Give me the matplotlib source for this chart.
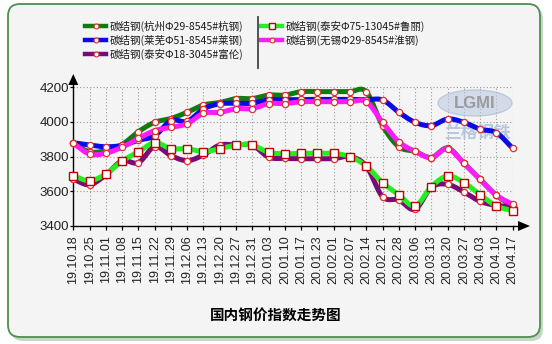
import numpy as np
import matplotlib
matplotlib.use("Agg")
import matplotlib.pyplot as plt
from matplotlib.patches import FancyBboxPatch, Polygon, Ellipse
from matplotlib.lines import Line2D
from matplotlib.transforms import Affine2D

# ---- data -------------------------------------------------------------
dates = ['19.10.18', '19.10.25', '19.11.01', '19.11.08', '19.11.15', '19.11.22',
         '19.11.29', '19.12.06', '19.12.13', '19.12.20', '19.12.27', '19.12.31',
         '20.01.03', '20.01.10', '20.01.17', '20.01.23', '20.02.01', '20.02.07',
         '20.02.14', '20.02.21', '20.02.28', '20.03.06', '20.03.13', '20.03.20',
         '20.03.27', '20.04.03', '20.04.10', '20.04.17']

hangzhou = [3877, 3828, 3835, 3870, 3944, 3998, 4020, 4056, 4098, 4112, 4135, 4135,
            4155, 4155, 4175, 4175, 4175, 4175, 4175, 3979, 3857, 3830, 3795, 3850,
            3762, 3669, 3577, 3515]
laiwu = [3880, 3867, 3857, 3865, 3895, 3920, 4008, 4004, 4075, 4105, 4108, 4108,
         4128, 4128, 4130, 4130, 4130, 4130, 4128, 4127, 4056, 3998, 3979, 4017,
         3998, 3958, 3938, 3848]
fulun = [3670, 3638, 3695, 3776, 3765, 3858, 3806, 3777, 3810, 3867, 3867, 3867,
         3797, 3790, 3788, 3788, 3788, 3800, 3746, 3569, 3550, 3496, 3623, 3640,
         3596, 3542, 3519, 3512]
luli = [3690, 3661, 3700, 3775, 3827, 3881, 3846, 3846, 3829, 3846, 3867, 3867,
        3825, 3817, 3819, 3819, 3819, 3800, 3746, 3650, 3581, 3515, 3627, 3688,
        3650, 3581, 3515, 3488]
huaigang = [3877, 3815, 3820, 3855, 3905, 3950, 3969, 3990, 4050, 4055, 4077, 4077,
            4106, 4106, 4117, 4117, 4117, 4117, 4117, 3998, 3886, 3830, 3795, 3846,
            3762, 3669, 3577, 3525]

names = ['碳结钢(杭州Φ29-8545#杭钢)', '碳结钢(莱芜Φ51-8545#莱钢)',
         '碳结钢(泰安Φ18-3045#富伦)', '碳结钢(泰安Φ75-13045#鲁丽)',
         '碳结钢(无锡Φ29-8545#淮钢)']
series = [hangzhou, laiwu, fulun, luli, huaigang]
colors = ['#117a11', '#0a0ae6', '#7a0a7a', '#22ee22', '#ff1aff']
markers = ['o', 'o', 'o', 's', 'o']
yticks = [3400, 3600, 3800, 4000, 4200]
title = '国内钢价指数走势图'

CJK = ['Noto Sans CJK SC', 'DejaVu Sans']
LAT = ['Liberation Sans', 'DejaVu Sans']


def catmull_rom(vals, n=16):
    p = np.asarray(vals, float)
    q = np.r_[2 * p[0] - p[1], p, 2 * p[-1] - p[-2]]
    t = np.linspace(0, 1, n, endpoint=False)
    xs, ys = [], []
    for i in range(len(p) - 1):
        p0, p1, p2, p3 = q[i:i + 4]
        y = 0.5 * (2 * p1 + (-p0 + p2) * t + (2 * p0 - 5 * p1 + 4 * p2 - p3) * t ** 2
                   + (-p0 + 3 * p1 - 3 * p2 + p3) * t ** 3)
        xs.append(i + t)
        ys.append(y)
    xs.append([len(p) - 1])
    ys.append([p[-1]])
    return np.concatenate(xs), np.concatenate(ys)


W, H = 552, 344
fig = plt.figure(figsize=(W / 100, H / 100), dpi=100)
fig.patch.set_facecolor('white')
# pixel coordinates with origin at top-left
px = Affine2D().scale(0.01, -0.01).translate(0, H / 100) + fig.dpi_scale_trans

# panel with shadow and rounded border
fig.patches.append(FancyBboxPatch((11, 7), 532, 334, boxstyle='round,pad=0,rounding_size=12',
                                  transform=px, facecolor='#c8d4c8', edgecolor='none', zorder=-2))
fig.patches.append(FancyBboxPatch((8, 4), 532, 333, boxstyle='round,pad=0,rounding_size=12',
                                  transform=px, facecolor='#f4f4f4', edgecolor='#4f8f4f',
                                  linewidth=1.3, zorder=-1))

x0, x1, y0, y1 = 73.3, 512.7, 226.0, 87.3
ax = fig.add_axes([x0 / W, 1 - y0 / H, (x1 - x0) / W, (y0 - y1) / H])
ax.set_zorder(1)
ax.set_facecolor('none')
x = np.arange(len(dates))
ax.set_xlim(0, len(dates) - 1)
ax.set_ylim(3400, 4200)

for v in yticks[1:]:
    ax.axhline(v, color='#9a9a9a', lw=0.8, ls=(0, (1, 2)), zorder=1)
for i in x[1:]:
    ax.axvline(i, color='#9a9a9a', lw=0.8, ls=(0, (1, 2)), zorder=1)

# watermark, behind the series
ax.add_artist(Ellipse((475, 103), 74, 26, transform=px, facecolor='#b8c8e0',
                      edgecolor='#9db3d6', lw=1.0, alpha=0.55, zorder=1.5, clip_on=False))
ax.text(475, 103, 'LGMI', transform=px, fontfamily=LAT, fontsize=12, fontweight='bold',
        color='#8c8c8c', alpha=0.8, ha='center', va='center', zorder=1.6, clip_on=False)
ax.text(477, 133, '兰格钢铁', transform=px, fontfamily=CJK, fontsize=12, fontweight='bold',
        color='#a7bcd9', alpha=0.8, ha='center', va='center', style='italic', zorder=1.6,
        clip_on=False)

for k, (vals, c, m) in enumerate(zip(series, colors, markers)):
    sx, sy = catmull_rom(vals)
    ax.plot(sx, sy, color=c, lw=3.6, solid_capstyle='round', zorder=3 + k, clip_on=False)
    if m == 's':
        ax.plot(x, vals, ls='none', marker='s', ms=5.5, mfc='white', mec='#c00000',
                mew=1.0, zorder=3.5 + k, clip_on=False)
    else:
        ax.plot(x, vals, ls='none', marker='o', ms=4.5, mfc='white', mec='#e03030',
                mew=0.9, zorder=3.5 + k, clip_on=False)

for s in ['top', 'right']:
    ax.spines[s].set_visible(False)
for s in ['left', 'bottom']:
    ax.spines[s].set_color('black')
    ax.spines[s].set_linewidth(1.0)

ax.set_xticks(x)
ax.set_xticklabels(dates, rotation=90, fontfamily=LAT, fontsize=9, color='#222222')
ax.set_yticks(yticks)
ax.set_yticklabels([str(v) for v in yticks], fontfamily=LAT, fontsize=9.5, color='#222222')
ax.tick_params(axis='x', length=3, width=0.9, pad=3.5)
ax.tick_params(axis='y', length=2.5, width=0.9, pad=0.5)

# axis extensions with arrow heads
fig.add_artist(Line2D([x0, x0], [y1, 84], transform=px, color='black', lw=1.0))
fig.add_artist(Polygon([(x0, 74), (x0 - 5, 85), (x0 + 5, 85)], closed=True, transform=px,
                       facecolor='black', edgecolor='none'))
fig.add_artist(Line2D([x1, 519], [y0, y0], transform=px, color='black', lw=1.0))
fig.add_artist(Polygon([(530, y0), (518, y0 - 5), (518, y0 + 5)], closed=True, transform=px,
                       facecolor='black', edgecolor='none'))

# legend
rows = [(85, 26), (85, 40), (85, 54), (261, 26), (261, 40)]
for (lx, ly), name, c, m in zip(rows, names, colors, markers):
    fig.add_artist(Line2D([lx, lx + 21], [ly, ly], transform=px, color=c, lw=3.2))
    if m == 's':
        fig.add_artist(Line2D([lx + 10.5], [ly], transform=px, ls='none', marker='s', ms=4.5,
                              mfc='white', mec='#c00000', mew=1.0))
    else:
        fig.add_artist(Line2D([lx + 10.5], [ly], transform=px, ls='none', marker='o', ms=3.5,
                              mfc='white', mec='#e03030', mew=0.8))
    fig.text((lx + 25) / W, 1 - ly / H, name, fontfamily=CJK, fontsize=7.6,
             color='#1a1a1a', ha='left', va='center')
fig.add_artist(Line2D([258, 258], [17, 68], transform=px, color='#444444', lw=1.3))

fig.text(276 / W, 1 - 315 / H, title, fontfamily=CJK, fontsize=10.5, fontweight='bold',
         color='black', ha='center', va='center')

fig.savefig('out.png', dpi=100)
